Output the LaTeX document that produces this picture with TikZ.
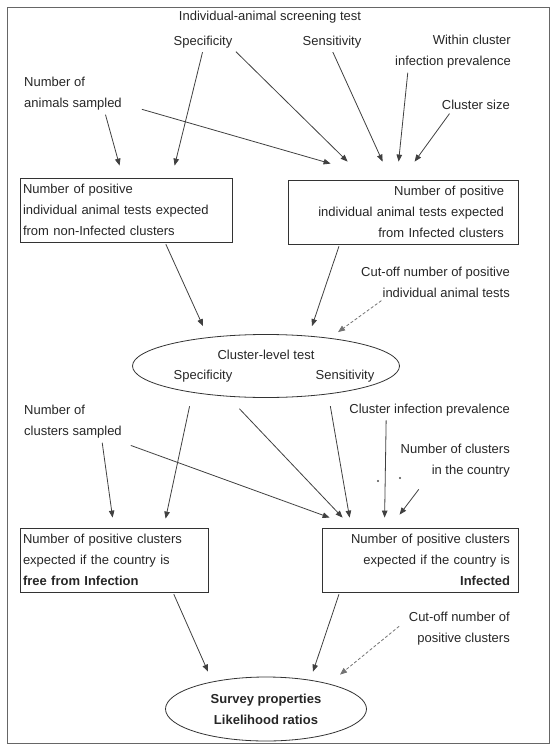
\documentclass[tikz,border=0pt]{standalone}
\usepackage{fontspec}
\setmainfont{Liberation Sans}
\usetikzlibrary{shapes.geometric,arrows.meta}

\begin{document}
\begin{tikzpicture}[x=1pt,y=-1pt,
	every node/.style={font=\fontsize{13}{21}\selectfont, text=black!85},
	lbl/.style={inner sep=2pt},
	outbox/.style={draw=black!80, line width=0.8pt, inner ysep=4pt, minimum height=64pt},
	oval/.style={draw=black!80, line width=0.8pt, ellipse, inner sep=0pt},
	arr/.style={draw=black!75, line width=0.8pt, -{Triangle[length=7pt,width=5.5pt]}, shorten <=2pt},
	cutarr/.style={arr, densely dashed, draw=black!55}]
	\useasboundingbox (0,0) rectangle (555,751);
	\draw[black!60, line width=0.8pt] (7,7) rectangle (549,743);
	
	% individual animal level
	\node[lbl] (title) at (270,17) {Individual-animal screening test};
	\node[lbl] (spec1) at (203,42) {Specificity};
	\node[lbl] (sens1) at (332,42) {Sensitivity};
	\node[lbl, align=right, anchor=east] (within) at (513,52) {Within cluster\\infection prevalence};
	\node[lbl, align=left, anchor=west] (nanim) at (22,94) {Number of\\animals sampled};
	\node[lbl, anchor=east] (csize) at (512,105) {Cluster size};
	
	\node[outbox, text width=206pt, inner xsep=3pt, align=left] (box1) at (126,210) {Number of positive\\individual animal tests expected\\from non-Infected clusters};
	\node[outbox, text width=202pt, inner xsep=14pt, align=right] (box2) at (403,212) {Number of positive\\individual animal tests expected\\from Infected clusters};
	\node[lbl, align=right, anchor=east] (cutind) at (512,282) {Cut-off number of positive\\individual animal tests};
	
	% cluster level
	\node[oval, minimum width=267pt, minimum height=63pt] (clell) at (266,366) {};
	\node[lbl] (cltitle) at (266,355) {Cluster-level test};
	\node[lbl] (clspec) at (203,376) {Specificity};
	\node[lbl] (clsens) at (345,376) {Sensitivity};
	
	\node[lbl, align=left, anchor=west] (nclus) at (22,422) {Number of\\clusters sampled};
	\node[lbl, anchor=east] (cprev) at (512,410) {Cluster infection prevalence};
	\node[lbl, align=right, anchor=east] (ncount) at (512,461) {Number of clusters\\in the country};
	
	\node[outbox, text width=182pt, inner xsep=3pt, align=left] (box3) at (114,560) {Number of positive clusters\\expected if the country is\\\textbf{free from Infection}};
	\node[outbox, text width=180pt, inner xsep=8pt, align=right] (box4) at (420,560) {Number of positive clusters\\expected if the country is\\\textbf{Infected}};
	\node[lbl, align=right, anchor=east] (cutclus) at (512,629) {Cut-off number of\\positive clusters};
	
	% survey level
	\node[oval, minimum width=201pt, minimum height=64pt, align=center] (survey) at (266,709) {\textbf{Survey properties}\\\textbf{Likelihood ratios}};
	
	\draw[arr] ([xshift=-19pt]nanim.south east) -- ([xshift=100pt,yshift=12pt]box1.north west);
	\draw[arr] (spec1.south) -- ([xshift=155pt,yshift=12pt]box1.north west);
	\draw[arr] ([xshift=16pt,yshift=4pt]nanim.south east) -- ([xshift=43pt,yshift=16pt]box2.north west);
	\draw[arr] (spec1.south east) -- ([xshift=60pt,yshift=18pt]box2.north west);
	\draw[arr] (sens1.south) -- ([xshift=95pt,yshift=18pt]box2.north west);
	\draw[arr] ([xshift=15pt]within.south west) -- ([xshift=111pt,yshift=18pt]box2.north west);
	\draw[arr] ([xshift=11pt]csize.south west) -- ([xshift=127pt,yshift=18pt]box2.north west);
	
	\draw[arr] ([xshift=39pt]box1.south) -- ([xshift=-63pt,yshift=8pt]clell.north);
	\draw[arr] ([xshift=52pt]box2.south west) -- ([xshift=46pt,yshift=8pt]clell.north);
	\draw[cutarr] ([xshift=-129pt]cutind.south east) -- ([xshift=72pt,yshift=2pt]clell.north);
	
	\draw[arr] ([xshift=-22pt]nclus.south east) -- ([xshift=93pt,yshift=10pt]box3.north west);
	\draw[arr] ([xshift=-13pt,yshift=-20pt]clspec.south) -- ([xshift=146pt,yshift=9pt]box3.north west);
	\draw[arr] ([xshift=35pt,yshift=-23pt]clspec.south) -- ([xshift=21pt,yshift=10pt]box4.north west);
	\draw[arr] ([xshift=-15pt,yshift=-20pt]clsens.south) -- ([xshift=28pt,yshift=10pt]box4.north west);
	\draw[arr] ([xshift=5pt,yshift=-4pt]nclus.south east) -- ([xshift=8pt,yshift=10pt]box4.north west);
	\draw[arr] ([xshift=39pt]cprev.south west) -- ([xshift=63pt,yshift=10pt]box4.north west);
	\draw[arr] ([xshift=-92pt,yshift=-8pt]ncount.south east) -- ([xshift=78pt,yshift=13pt]box4.north west);
	\fill[black!70] (378,481) circle (1.2pt);
	\fill[black!70] (400,478) circle (1.2pt);
	
	\draw[arr] ([xshift=59pt]box3.south) -- ([xshift=-58pt,yshift=5pt]survey.north);
	\draw[arr] ([xshift=18pt]box4.south west) -- ([xshift=47pt,yshift=5pt]survey.north);
	\draw[cutarr] ([xshift=-6pt,yshift=4pt]cutclus.west) -- ([xshift=74pt,yshift=2pt]survey.north);
\end{tikzpicture}
\end{document}
